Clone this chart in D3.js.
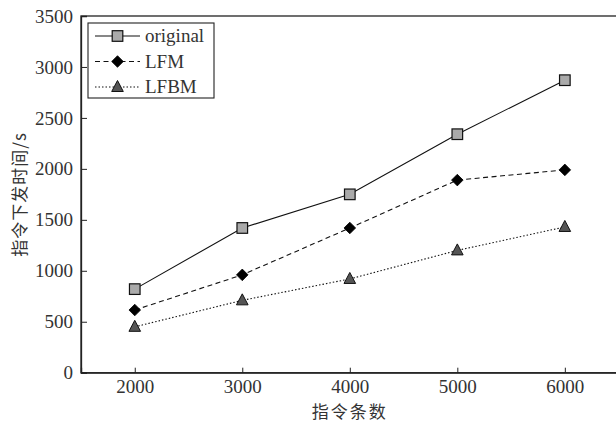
<!DOCTYPE html>
<html><head><meta charset="utf-8">
<script src="https://cdn.jsdelivr.net/npm/d3@7"></script>
<style>body{margin:0;background:#fff}svg{display:block}</style>
</head><body>
<svg id="c" width="616" height="422"></svg>
<script>
const categories = [2000, 3000, 4000, 5000, 6000];
const original = [820, 1420, 1750, 2340, 2870];
const lfm = [615, 960, 1420, 1890, 1990];
const lfbm = [450, 710, 920, 1200, 1430];
const yTicks = [0, 500, 1000, 1500, 2000, 2500, 3000, 3500];
const seriesNames = ["original", "LFM", "LFBM"];

const svg = d3.select("#c");
const L = 81, R = 618.6, T = 16, B = 372.7;
const x = d3.scaleLinear().domain([1500, 6500]).range([L, R]);
const y = d3.scaleLinear().domain([0, 3500]).range([B, T]);
const numFont = "'Liberation Serif','DejaVu Serif',serif";
const cjkFont = "'Noto Sans CJK SC','Noto Sans CJK JP',sans-serif";
const txt = "#333";

// frame
svg.append("rect").attr("x", L).attr("y", T).attr("width", R - L).attr("height", B - T)
  .attr("fill", "none").attr("stroke", "#222").attr("stroke-width", 1.3);

// axes
const xAxis = d3.axisBottom(x).tickValues(categories).tickSize(-5).tickPadding(7).tickFormat(d3.format("d"));
const gx = svg.append("g").attr("transform", `translate(0,${B})`).call(xAxis);
const yAxis = d3.axisLeft(y).tickValues(yTicks).tickSize(-6).tickPadding(8).tickFormat(d3.format("d"));
const gy = svg.append("g").attr("transform", `translate(${L},0)`).call(yAxis);
[gx, gy].forEach(g => {
  g.select(".domain").attr("stroke", "#222").attr("stroke-width", 1.3);
  g.selectAll(".tick line").attr("stroke", "#222").attr("stroke-width", 1);
  g.selectAll(".tick text").attr("font-family", numFont).attr("font-size", 19).attr("fill", txt);
});

// axis titles
svg.append("text").attr("x", x(4000)).attr("y", 418).attr("text-anchor", "middle")
  .attr("font-family", cjkFont).attr("font-size", 17).attr("letter-spacing", 2).attr("fill", txt).text("指令条数");
svg.append("text").attr("transform", `translate(26,${(T + B) / 2}) rotate(-90)`).attr("text-anchor", "middle")
  .attr("font-family", cjkFont).attr("font-size", 17).attr("letter-spacing", 1).attr("fill", txt).text("指令下发时间/s");

const series = [
  {name: seriesNames[0], vals: original, dash: null, marker: "square"},
  {name: seriesNames[1], vals: lfm, dash: "5,3.5", marker: "diamond"},
  {name: seriesNames[2], vals: lfbm, dash: "1.5,2", marker: "triangle"}
];
function drawMarker(g, type, cx, cy) {
  if (type === "square") {
    g.append("rect").attr("x", cx - 5.3).attr("y", cy - 5.3).attr("width", 10.6).attr("height", 10.6)
      .attr("fill", "#aaaaaa").attr("stroke", "#111").attr("stroke-width", 1.2);
  } else if (type === "diamond") {
    g.append("path").attr("d", `M${cx},${cy - 5.8}L${cx + 5.8},${cy}L${cx},${cy + 5.8}L${cx - 5.8},${cy}Z`)
      .attr("fill", "#000").attr("stroke", "#000").attr("stroke-width", 0.8);
  } else {
    g.append("path").attr("d", `M${cx},${cy - 6.5}L${cx + 5.8},${cy + 4.5}L${cx - 5.8},${cy + 4.5}Z`)
      .attr("fill", "#555").attr("stroke", "#111").attr("stroke-width", 1);
  }
}
const line = d3.line().x((d, i) => x(categories[i])).y(d => y(d));
series.forEach(s => {
  svg.append("path").datum(s.vals).attr("d", line).attr("fill", "none").attr("stroke", "#111")
    .attr("stroke-width", 1.1).attr("stroke-dasharray", s.dash);
  const g = svg.append("g");
  s.vals.forEach((v, i) => drawMarker(g, s.marker, x(categories[i]), y(v)));
});

// legend
const lg = svg.append("g");
lg.append("rect").attr("x", 88).attr("y", 23).attr("width", 126).attr("height", 75)
  .attr("fill", "#fff").attr("stroke", "#222").attr("stroke-width", 1.1);
series.forEach((s, i) => {
  const cy = 36 + i * 25.5;
  lg.append("line").attr("x1", 95).attr("x2", 140).attr("y1", cy).attr("y2", cy)
    .attr("stroke", "#111").attr("stroke-width", 1.1).attr("stroke-dasharray", s.dash);
  drawMarker(lg, s.marker, 117.5, cy);
  lg.append("text").attr("x", 145).attr("y", cy + 6).attr("font-family", numFont).attr("font-size", 19)
    .attr("fill", txt).text(s.name);
});
</script>
</body></html>
